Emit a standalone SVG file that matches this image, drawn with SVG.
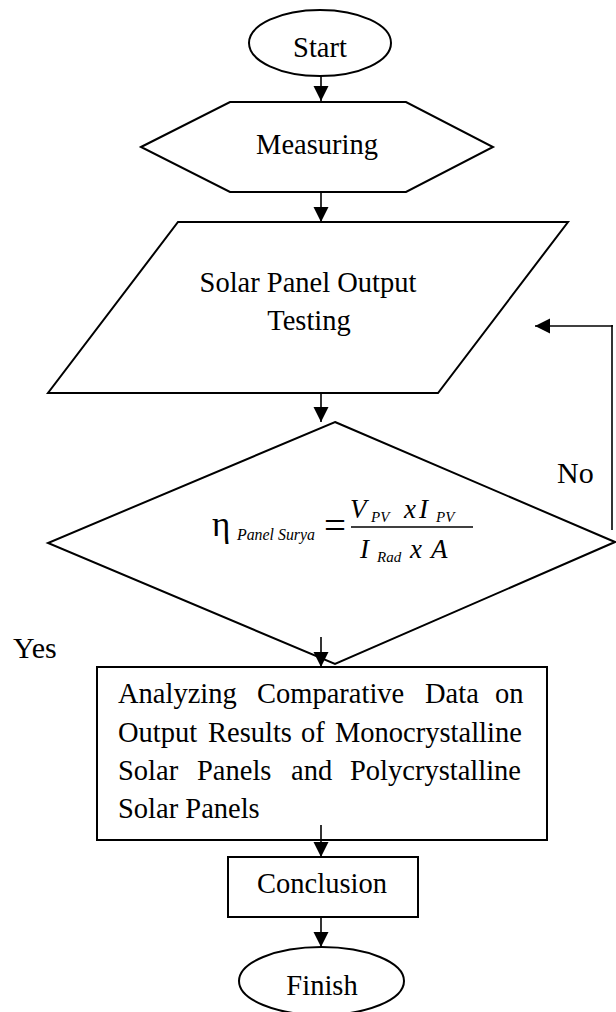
<svg xmlns="http://www.w3.org/2000/svg" width="616" height="1012" viewBox="0 0 616 1012">
<style>
.shape{fill:#fff;stroke:#000;stroke-width:2;}
.t{font-family:"Liberation Serif","Times New Roman",serif;font-size:28.5px;fill:#000;}
.c{text-anchor:middle;}
.lbl{font-family:"Liberation Serif","Times New Roman",serif;font-size:30px;fill:#000;}
.m{font-family:"Liberation Serif","Times New Roman",serif;fill:#000;font-style:italic;}
.up{font-family:"Liberation Serif","Times New Roman",serif;fill:#000;font-style:normal;}
.conn{fill:none;stroke:#000;stroke-width:1.6;}
</style>
<defs>
<marker id="ah" markerUnits="userSpaceOnUse" markerWidth="16" markerHeight="16" refX="15" refY="7.5" orient="auto">
<path d="M0,0 L15,7.5 L0,15 Z" fill="#000"/>
</marker>
</defs>
<rect width="616" height="1012" fill="#fff"/>
<g id="start">
<ellipse class="shape" cx="320" cy="43" rx="71" ry="33"/>
<text class="t c" x="320" y="57">Start</text>
</g>
<g id="measuring">
<polygon class="shape" points="141,147 230,102 406,102 493,147 406,192 230,192"/>
<text class="t c" x="317" y="154">Measuring</text>
</g>
<g id="testing">
<polygon class="shape" points="178,222 568,222 438,393 48,393"/>
<text class="t c" x="308" y="292">Solar Panel Output</text>
<text class="t c" x="309" y="330">Testing</text>
</g>
<g id="decision">
<polygon class="shape" points="335,422 615,542 335,664 48,543"/>
<text class="up" x="212" y="536" font-size="35">η</text>
<text class="m" x="237" y="540" font-size="17" textLength="78" lengthAdjust="spacingAndGlyphs">Panel Surya</text>
<text class="up" x="324" y="538" font-size="38" textLength="22" lengthAdjust="spacingAndGlyphs">=</text>
<line x1="351" y1="527" x2="473" y2="527" stroke="#000" stroke-width="1.3"/>
<text class="m" x="350" y="518" font-size="27">V</text>
<text class="m" x="371" y="522" font-size="15">PV</text>
<text class="m" x="404" y="518" font-size="27">x</text>
<text class="m" x="419" y="518" font-size="27">I</text>
<text class="m" x="436" y="522" font-size="15">PV</text>
<text class="m" x="360" y="558" font-size="27">I</text>
<text class="m" x="377" y="562" font-size="15">Rad</text>
<text class="m" x="410" y="558" font-size="27">x</text>
<text class="m" x="431" y="558" font-size="27">A</text>
</g>
<g id="analyze">
<rect class="shape" x="97" y="667" width="450" height="173"/>
<text class="t" y="703"><tspan x="118">Analyzing</tspan><tspan x="257">Comparative</tspan><tspan x="425">Data</tspan><tspan x="495">on</tspan></text>
<text class="t" y="741.5"><tspan x="118">Output</tspan><tspan x="208">Results</tspan><tspan x="301">of</tspan><tspan x="335">Monocrystalline</tspan></text>
<text class="t" y="780"><tspan x="118">Solar</tspan><tspan x="197">Panels</tspan><tspan x="291">and</tspan><tspan x="350">Polycrystalline</tspan></text>
<text class="t" x="118" y="818">Solar Panels</text>
</g>
<g id="conclusion">
<rect class="shape" x="228" y="857" width="190" height="60"/>
<text class="t c" x="322" y="893">Conclusion</text>
</g>
<g id="finish">
<ellipse class="shape" cx="321.5" cy="981" rx="82.5" ry="34"/>
<text class="t c" x="322" y="995">Finish</text>
</g>
<g id="connectors">
<line class="conn" x1="321" y1="76" x2="321" y2="101" marker-end="url(#ah)"/>
<line class="conn" x1="321" y1="192" x2="321" y2="222" marker-end="url(#ah)"/>
<line class="conn" x1="321" y1="393" x2="321" y2="422" marker-end="url(#ah)"/>
<line class="conn" x1="321" y1="637" x2="321" y2="667" marker-end="url(#ah)"/>
<line class="conn" x1="321" y1="825" x2="321" y2="857" marker-end="url(#ah)"/>
<line class="conn" x1="321" y1="917" x2="321" y2="947" marker-end="url(#ah)"/>
<line class="conn" x1="612" y1="530" x2="612" y2="325" stroke-width="1.4"/>
<line class="conn" x1="613" y1="326" x2="535" y2="326" stroke-width="2.4" marker-end="url(#ah)"/>
</g>
<g id="labels">
<text class="lbl" x="13" y="658">Yes</text>
<text class="lbl" x="557" y="483">No</text>
</g>
</svg>
